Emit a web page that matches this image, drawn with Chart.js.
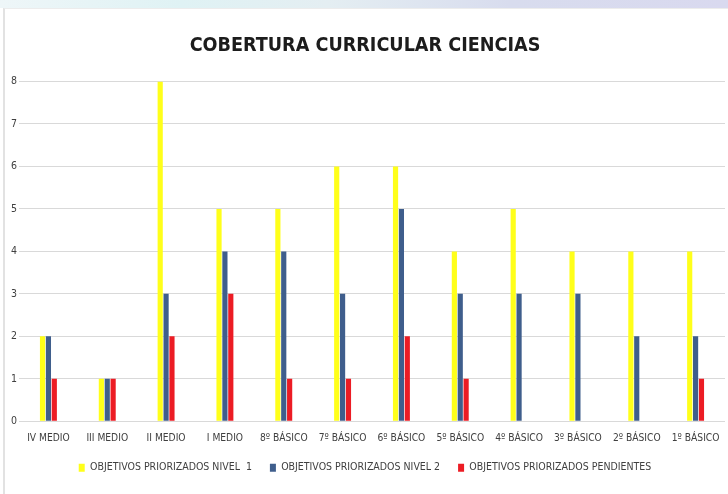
<!DOCTYPE html>
<html>
<head>
<meta charset="utf-8">
<script src="https://cdn.jsdelivr.net/npm/chart.js@4"></script>
<style>
  html, body { margin: 0; padding: 0; background: #fff; }
  #strip { position: absolute; left: 0; top: 0; width: 728px; height: 8px;
    background: linear-gradient(to right, #eef6f8 0%, #dff2f4 25%, #e4eef2 45%, #d8dcee 70%, #d9d9ef 100%); }
  #box { position: absolute; left: 3px; top: 8px; width: 725px; height: 486px;
    border-left: 2px solid #e2e2e2; border-top: 1px solid #ececec; box-sizing: border-box; }
  canvas { display: block; }
</style>
</head>
<body>
<div id="strip"></div>
<div id="box"><canvas id="chart" width="723" height="485"></canvas></div>
<script>
const cursos = ["IV MEDIO", "III MEDIO", "II MEDIO", "I MEDIO", "8º BÁSICO", "7º BÁSICO",
  "6º BÁSICO", "5º BÁSICO", "4º BÁSICO", "3º BÁSICO", "2º BÁSICO", "1º BÁSICO"];
const nivel1 = [2, 1, 8, 5, 5, 6, 6, 4, 5, 4, 4, 4];
const nivel2 = [2, 1, 3, 4, 4, 3, 5, 3, 3, 3, 2, 2];
const pendientes = [1, 1, 2, 3, 1, 1, 2, 1, 0, 0, 0, 1];

const font = "'Liberation Sans Narrow', 'DejaVu Sans Condensed', sans-serif";
const ctx = document.getElementById("chart").getContext("2d");

function serie(label, data, color) {
  return { label, data, backgroundColor: color, borderWidth: 0,
    categoryPercentage: 0.3, barPercentage: 0.88 };
}

new Chart(ctx, {
  type: "bar",
  data: {
    labels: cursos,
    datasets: [
      serie("OBJETIVOS PRIORIZADOS NIVEL  1", nivel1, "#ffff1a"),
      serie("OBJETIVOS PRIORIZADOS NIVEL 2", nivel2, "#3f5e8c"),
      serie("OBJETIVOS PRIORIZADOS PENDIENTES", pendientes, "#ec1c24")
    ]
  },
  options: {
    responsive: false,
    animation: false,
    layout: { padding: { left: 0, right: 3, top: 0, bottom: 11 } },
    plugins: {
      title: {
        display: true,
        text: "COBERTURA CURRICULAR CIENCIAS",
        color: "#1c1c1c",
        font: { family: font, size: 19.6, weight: "bold" },
        padding: { top: 25, bottom: 24 }
      },
      legend: {
        position: "bottom",
        labels: {
          color: "#404040",
          font: { family: font, size: 10.5 },
          boxWidth: 6,
          boxHeight: 8,
          padding: 18
        }
      },
      tooltip: { enabled: false }
    },
    scales: {
      x: {
        afterFit: scale => { scale.height -= 3; },
        grid: { display: false },
        border: { display: false },
        ticks: { color: "#404040", font: { family: font, size: 10.2 }, maxRotation: 0, autoSkip: false, padding: 3 }
      },
      y: {
        min: 0,
        max: 8,
        afterFit: scale => { scale.width = 14; },
        grid: { color: "#d9d9d9", drawTicks: false },
        border: { display: false },
        ticks: { stepSize: 1, color: "#404040", font: { family: font, size: 10.5 }, padding: 2 }
      }
    }
  }
});
</script>
</body>
</html>
